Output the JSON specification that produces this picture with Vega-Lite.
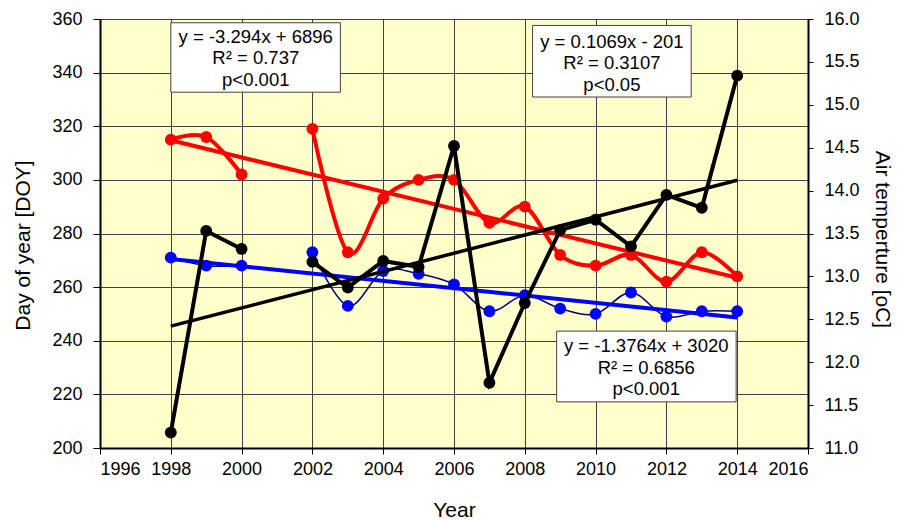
{
  "$schema": "https://vega.github.io/schema/vega-lite/v6.json",
  "width": 708,
  "height": 429,
  "autosize": {"type": "none"},
  "padding": {"left": 100, "top": 19, "right": 99, "bottom": 72},
  "background": "white",
  "config": {
    "font": "Liberation Sans",
    "view": {"fill": "#FFFFCC", "stroke": "#808080", "strokeWidth": 1},
    "axis": {
      "labelFont": "Liberation Sans",
      "titleFont": "Liberation Sans",
      "labelFontSize": 18,
      "titleFontSize": 21,
      "titleFontWeight": "normal",
      "labelColor": "#000000",
      "titleColor": "#000000",
      "domainColor": "#000000",
      "domainWidth": 2,
      "tickColor": "#000000",
      "tickWidth": 1,
      "gridColor": "#404040",
      "gridWidth": 1,
      "gridOpacity": 1
    }
  },
  "datasets": {
    "red": [
      {"year": 1998, "period": "A", "doy": 315},
      {"year": 1999, "period": "A", "doy": 316},
      {"year": 2000, "period": "A", "doy": 302},
      {"year": 2002, "period": "B", "doy": 319},
      {"year": 2003, "period": "B", "doy": 273},
      {"year": 2004, "period": "B", "doy": 293},
      {"year": 2005, "period": "B", "doy": 300},
      {"year": 2006, "period": "B", "doy": 300},
      {"year": 2007, "period": "B", "doy": 284},
      {"year": 2008, "period": "B", "doy": 290},
      {"year": 2009, "period": "B", "doy": 272},
      {"year": 2010, "period": "B", "doy": 268},
      {"year": 2011, "period": "B", "doy": 272},
      {"year": 2012, "period": "B", "doy": 262},
      {"year": 2013, "period": "B", "doy": 273},
      {"year": 2014, "period": "B", "doy": 264}
    ],
    "blue": [
      {"year": 1998, "period": "A", "doy": 271},
      {"year": 1999, "period": "A", "doy": 268},
      {"year": 2000, "period": "A", "doy": 268},
      {"year": 2002, "period": "B", "doy": 273},
      {"year": 2003, "period": "B", "doy": 253},
      {"year": 2004, "period": "B", "doy": 266},
      {"year": 2005, "period": "B", "doy": 265},
      {"year": 2006, "period": "B", "doy": 261},
      {"year": 2007, "period": "B", "doy": 251},
      {"year": 2008, "period": "B", "doy": 257},
      {"year": 2009, "period": "B", "doy": 252},
      {"year": 2010, "period": "B", "doy": 250},
      {"year": 2011, "period": "B", "doy": 258},
      {"year": 2012, "period": "B", "doy": 249},
      {"year": 2013, "period": "B", "doy": 251},
      {"year": 2014, "period": "B", "doy": 251}
    ],
    "temp": [
      {"year": 1998, "period": "A", "temp": 11.18},
      {"year": 1999, "period": "A", "temp": 13.53},
      {"year": 2000, "period": "A", "temp": 13.32},
      {"year": 2002, "period": "B", "temp": 13.17},
      {"year": 2003, "period": "B", "temp": 12.87},
      {"year": 2004, "period": "B", "temp": 13.18},
      {"year": 2005, "period": "B", "temp": 13.11},
      {"year": 2006, "period": "B", "temp": 14.52},
      {"year": 2007, "period": "B", "temp": 11.76},
      {"year": 2008, "period": "B", "temp": 12.69},
      {"year": 2009, "period": "B", "temp": 13.54},
      {"year": 2010, "period": "B", "temp": 13.66},
      {"year": 2011, "period": "B", "temp": 13.35},
      {"year": 2012, "period": "B", "temp": 13.95},
      {"year": 2013, "period": "B", "temp": 13.80},
      {"year": 2014, "period": "B", "temp": 15.34}
    ],
    "red_trend": [
      {"year": 1998, "doy": 314.8},
      {"year": 2014, "doy": 263.5}
    ],
    "blue_trend": [
      {"year": 1998, "doy": 270.5},
      {"year": 2014, "doy": 248.7}
    ],
    "temp_trend": [
      {"year": 1998, "temp": 12.42},
      {"year": 2014, "temp": 14.12}
    ],
    "notes": [
      {"x1": 1998.0, "x2": 2002.79, "y1": 358.6, "y2": 332.7, "cx": 2000.4, "cy": 353.4, "label": "y = -3.294x + 6896\nR² = 0.737\np<0.001"},
      {"x1": 2008.22, "x2": 2012.70, "y1": 357.6, "y2": 330.9, "cx": 2010.46, "cy": 351.5, "label": "y = 0.1069x - 201\nR² = 0.3107\np<0.05"},
      {"x1": 2008.90, "x2": 2013.97, "y1": 243.6, "y2": 217.2, "cx": 2011.43, "cy": 238.0, "label": "y = -1.3764x + 3020\nR² = 0.6856\np<0.001"}
    ]
  },
  "encoding": {
    "x": {
      "field": "year",
      "type": "quantitative",
      "title": "Year",
      "scale": {"domain": [1996, 2016], "nice": false, "zero": false},
      "axis": {
        "values": [1996, 1998, 2000, 2002, 2004, 2006, 2008, 2010, 2012, 2014, 2016],
        "format": "d",
        "grid": true,
        "tickSize": 6,
        "labelPadding": 6,
        "titlePadding": 21
      }
    }
  },
  "layer": [
    {
      "encoding": {
        "y": {
          "field": "doy",
          "type": "quantitative",
          "title": "Day of year [DOY]",
          "scale": {"domain": [200, 360], "nice": false, "zero": false},
          "axis": {
            "values": [200, 220, 240, 260, 280, 300, 320, 340, 360],
            "grid": true,
            "tickSize": 7,
            "labelPadding": 11,
            "titlePadding": 18,
            "titleY": 226
          }
        }
      },
      "layer": [
        {
          "data": {"name": "blue"},
          "mark": {"type": "line", "color": "#000080", "strokeWidth": 1.5, "interpolate": "cardinal"},
          "encoding": {"detail": {"field": "period"}}
        },
        {
          "data": {"name": "blue"},
          "mark": {"type": "circle", "color": "#0000FF", "opacity": 1, "size": 140}
        },
        {
          "data": {"name": "blue_trend"},
          "mark": {"type": "line", "color": "#0000FF", "strokeWidth": 4},
          "encoding": {}
        },
        {
          "data": {"name": "red"},
          "mark": {"type": "line", "color": "#FF0000", "strokeWidth": 4, "interpolate": "cardinal"},
          "encoding": {"detail": {"field": "period"}}
        },
        {
          "data": {"name": "red"},
          "mark": {"type": "circle", "color": "#FF0000", "opacity": 1, "size": 140}
        },
        {
          "data": {"name": "red_trend"},
          "mark": {"type": "line", "color": "#FF0000", "strokeWidth": 4},
          "encoding": {}
        },
        {
          "data": {"name": "notes"},
          "mark": {"type": "rect", "fill": "white", "stroke": "#404040", "strokeWidth": 1},
          "encoding": {
            "x": {"field": "x1", "type": "quantitative", "title": "Year"},
            "x2": {"field": "x2"},
            "y": {"field": "y1", "type": "quantitative", "title": "Day of year [DOY]"},
            "y2": {"field": "y2"}
          }
        },
        {
          "data": {"name": "notes"},
          "mark": {"type": "text", "font": "Liberation Sans", "fontSize": 18.5, "color": "#000000", "align": "center", "baseline": "middle", "lineBreak": "\n", "lineHeight": 21.5},
          "encoding": {
            "x": {"field": "cx", "type": "quantitative", "title": "Year"},
            "y": {"field": "cy", "type": "quantitative", "title": "Day of year [DOY]"},
            "text": {"field": "label"}
          }
        }
      ]
    },
    {
      "encoding": {
        "y": {
          "field": "temp",
          "type": "quantitative",
          "title": "Air temperture [oC]",
          "scale": {"domain": [11, 16], "nice": false, "zero": false},
          "axis": {
            "orient": "right",
            "values": [11, 11.5, 12, 12.5, 13, 13.5, 14, 14.5, 15, 15.5, 16],
            "format": ".1f",
            "grid": false,
            "tickSize": 5,
            "labelPadding": 11,
            "titlePadding": 12,
            "titleAngle": 90,
            "titleY": 220
          }
        }
      },
      "layer": [
        {
          "data": {"name": "temp"},
          "mark": {"type": "line", "color": "#000000", "strokeWidth": 4},
          "encoding": {"detail": {"field": "period"}}
        },
        {
          "data": {"name": "temp"},
          "mark": {"type": "circle", "color": "#000000", "opacity": 1, "size": 140}
        },
        {
          "data": {"name": "temp_trend"},
          "mark": {"type": "line", "color": "#000000", "strokeWidth": 3.5},
          "encoding": {}
        }
      ]
    }
  ],
  "resolve": {"scale": {"y": "independent"}, "axis": {"y": "independent"}}
}
